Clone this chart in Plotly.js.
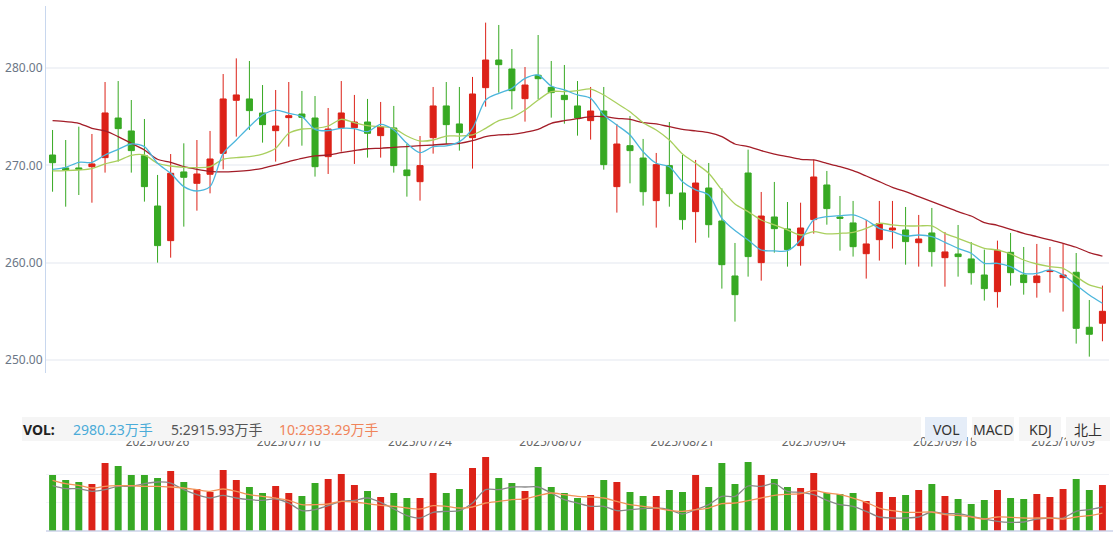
<!DOCTYPE html>
<html><head><meta charset="utf-8">
<script src="https://cdn.plot.ly/plotly-3.0.1.min.js"></script>
<style>html,body{margin:0;padding:0;background:#fff;}#chart{width:1113px;height:533px;}</style>
</head><body><div id="chart"></div>
<script>
const dates = ["2025/06/16","2025/06/17","2025/06/18","2025/06/19","2025/06/20","2025/06/23","2025/06/24","2025/06/25","2025/06/26","2025/06/27",
"2025/06/30","2025/07/01","2025/07/02","2025/07/03","2025/07/04","2025/07/07","2025/07/08","2025/07/09","2025/07/10","2025/07/11",
"2025/07/14","2025/07/15","2025/07/16","2025/07/17","2025/07/18","2025/07/21","2025/07/22","2025/07/23","2025/07/24","2025/07/25",
"2025/07/28","2025/07/29","2025/07/30","2025/07/31","2025/08/01","2025/08/04","2025/08/05","2025/08/06","2025/08/07","2025/08/08",
"2025/08/11","2025/08/12","2025/08/13","2025/08/14","2025/08/15","2025/08/18","2025/08/19","2025/08/20","2025/08/21","2025/08/22",
"2025/08/25","2025/08/26","2025/08/27","2025/08/28","2025/08/29","2025/09/01","2025/09/02","2025/09/03","2025/09/04","2025/09/05",
"2025/09/08","2025/09/09","2025/09/10","2025/09/11","2025/09/12","2025/09/15","2025/09/16","2025/09/17","2025/09/18","2025/09/19",
"2025/09/22","2025/09/23","2025/09/24","2025/09/25","2025/09/26","2025/09/29","2025/09/30","2025/10/09","2025/10/10","2025/10/13","2025/10/14"];

const tickDates = ["2025/06/26","2025/07/10","2025/07/24","2025/08/07","2025/08/21","2025/09/04","2025/09/18","2025/10/09"];

const openP = [271.06,269.73,269.73,269.86,270.79,274.86,273.53,270.99,265.82,262.26,
269.32,268.15,269.08,271.23,276.68,276.82,275.38,273.56,274.90,275.27,
274.86,270.89,273.87,273.87,274.45,273.05,273.84,269.52,268.32,272.84,
276.10,274.25,272.84,277.98,280.82,279.90,276.85,279.25,278.01,277.19,
276.10,274.59,275.58,267.81,272.02,270.75,266.37,269.97,267.16,265.24,
267.67,264.28,258.63,269.21,260.00,264.69,263.46,261.75,264.42,267.98,
264.69,264.08,260.92,262.36,263.36,263.36,262.05,263.05,260.51,260.89,
260.38,258.73,257.02,261.06,258.73,257.95,259.08,258.46,259.01,253.36,253.77];

const closeP = [270.27,269.49,269.59,270.14,275.38,273.77,271.51,267.81,261.75,269.18,
268.77,269.11,270.65,276.82,277.23,275.62,274.18,274.04,275.10,274.93,
269.86,273.73,275.38,274.45,273.29,273.94,269.97,268.94,269.97,276.10,
274.18,273.36,277.33,280.82,280.34,277.67,278.25,278.90,277.47,276.75,
274.86,275.58,270.07,272.19,271.51,267.29,270.07,267.09,264.42,268.18,
263.90,259.79,256.71,260.62,264.79,263.49,261.34,263.56,268.80,265.55,
264.55,261.64,261.92,264.01,263.56,262.16,262.43,261.13,261.10,260.62,
258.97,257.33,261.27,258.97,257.95,258.63,259.18,258.73,253.25,252.64,255.00];

const highP = [273.63,272.60,273.97,273.22,278.56,278.66,276.71,274.76,269.01,271.16,
272.26,272.60,273.53,279.38,280.99,280.72,278.25,277.74,278.56,277.64,
277.12,275.89,278.66,277.23,276.82,276.51,276.10,272.19,273.01,278.05,
278.56,278.05,279.08,284.66,284.42,281.95,280.10,283.39,280.72,280.31,
278.66,278.05,278.05,274.25,275.07,272.71,271.27,274.45,271.06,270.55,
270.24,267.64,262.02,271.61,267.26,268.29,266.23,266.16,270.58,269.42,
266.85,266.34,264.38,266.34,266.34,265.72,264.90,265.62,263.15,263.87,
262.12,261.34,262.26,263.05,261.61,261.92,261.61,261.92,260.99,256.16,257.64];

const lowP = [267.29,265.75,266.95,266.16,269.25,270.38,269.25,266.27,260.00,260.51,
263.70,265.34,267.12,269.59,272.95,273.63,272.33,270.38,271.92,272.02,
268.84,269.11,271.40,270.14,270.79,270.79,269.25,266.78,266.37,271.20,
272.19,271.51,269.66,276.03,277.47,275.75,274.49,276.78,274.90,274.28,
273.05,272.64,269.55,265.14,268.15,265.86,263.60,265.75,263.39,262.05,
262.57,257.33,253.94,258.56,258.15,261.03,259.59,259.69,262.98,263.90,
261.23,260.62,258.36,260.21,261.44,259.79,259.59,259.59,257.53,258.56,
257.74,256.10,255.38,257.64,256.71,256.40,256.92,254.97,251.68,250.34,251.92];

const ma5 = [269.59,269.79,270.31,270.31,271.06,271.64,272.19,271.92,270.21,269.18,
267.81,267.36,267.81,271.23,272.60,273.97,275.17,275.68,275.34,275.00,
273.70,273.56,273.80,273.77,273.46,274.21,273.63,272.26,271.30,271.92,
271.99,272.43,273.80,276.71,277.40,277.91,278.94,279.28,278.15,277.74,
277.23,276.88,275.17,274.14,273.12,271.40,270.21,269.86,268.32,267.47,
266.95,264.55,263.29,262.33,261.30,261.20,261.23,262.33,264.38,264.73,
264.83,264.90,264.38,263.53,263.18,262.74,262.84,262.67,262.09,261.47,
260.96,259.93,259.93,259.59,258.90,258.90,259.25,258.73,257.71,256.68,255.82];

const ma10 = [269.42,269.45,269.52,269.66,270.14,270.48,271.03,271.06,270.21,269.93,
269.79,269.76,269.86,270.62,270.79,270.89,271.16,271.75,273.29,273.73,
273.80,274.04,274.73,274.38,274.08,273.97,273.80,273.01,272.50,272.60,
273.01,273.01,273.12,273.80,274.59,274.93,275.68,276.71,277.57,277.57,
277.67,277.84,277.23,276.37,275.51,274.38,273.63,272.60,271.16,270.21,
269.18,267.47,266.03,265.24,264.38,263.87,263.36,262.84,263.18,262.95,
263.01,263.12,263.53,264.04,263.87,263.77,263.77,263.77,263.01,262.50,
261.99,261.47,261.30,260.89,260.27,259.86,259.59,259.42,258.56,257.71,257.36];

const ma20 = [274.59,274.49,274.32,273.80,273.53,272.95,272.26,271.58,270.62,270.31,
269.86,269.59,269.38,269.32,269.38,269.49,269.69,270.03,270.38,270.72,
270.96,271.06,271.30,271.51,271.70,271.75,271.85,271.92,272.02,272.09,
272.19,272.26,272.53,272.95,273.12,273.18,273.39,273.70,274.32,274.59,
274.79,275.00,275.00,274.83,274.73,274.38,274.25,273.97,273.70,273.53,
273.36,272.95,272.19,271.92,271.51,271.16,270.89,270.62,270.55,270.21,
269.86,269.45,268.90,268.32,267.74,267.29,266.78,266.27,265.75,265.24,
264.79,264.11,263.84,263.42,263.01,262.67,262.33,261.99,261.58,261.03,260.68];

const volume = [3628,3304,3175,3045,4406,4211,3628,3628,3434,3887,
3175,2721,2527,3952,3304,2851,2462,2915,2462,2268,
3110,3369,3693,2980,2592,2203,2462,2138,2138,3758,
2462,2721,4082,4794,3434,3110,2592,4146,2851,2462,
2138,2332,3304,3175,2527,2268,2268,2656,2527,3628,
2851,4406,3045,4470,3628,3369,2851,2786,3758,2462,
2397,2462,1944,2527,2203,2332,2656,3045,2268,2073,
1749,2008,2656,2138,2073,2397,2203,2721,3369,2656,2980.23];

const volMa5 = [2937,2743,2743,2570,2678,2894,2894,3067,3175,3110,
2678,2354,2138,2311,2138,2030,1987,2074,1814,1318,
1382,1642,1922,1987,2138,1858,1426,994,842,1210,
1274,1318,1814,2678,2678,2851,2851,2851,2462,2030,
1814,1598,1598,1318,1382,1447,1490,1382,1102,1382,
1706,2246,2246,2916,2894,3067,2570,2506,2354,1987,
1706,1598,1274,907,842,842,907,1231,1123,1123,
950,778,626,562,583,778,842,842,1274,1382,1555];

const volMa10 = [3283,3067,2959,2786,2894,2937,2937,2894,2894,2851,
2786,2678,2570,2722,2570,2354,2246,2138,1987,1706,
1706,1750,1922,1879,1771,1663,1598,1490,1426,1642,
1598,1490,1555,1814,1922,2030,2074,2290,2462,2354,
2246,2203,2138,1922,1706,1598,1490,1339,1274,1382,
1490,1771,1814,1966,2138,2311,2376,2419,2614,2462,
2354,2138,1858,1490,1318,1210,1210,1231,1058,1015,
907,778,907,886,842,842,842,778,907,994,1166];

const priceTicks = [250, 260, 270, 280];
const volLegend = {label: "VOL:", cur: "2980.23万手", m5: "5:2915.93万手", m10: "10:2933.29万手"};
const tabs = ["VOL", "MACD", "KDJ", "北上"];

const RED = "#dc2218", GREEN = "#37a923";
const W = 1113, H = 533;
const px = x => x / W, py = y => 1 - y / H;
const FONT = "Noto Sans, Noto Sans CJK SC, sans-serif";

const volColors = closeP.map((c, i) => c >= openP[i] ? RED : GREEN);

const traces = [
  {type: "candlestick", x: dates, open: openP, high: highP, low: lowP, close: closeP,
   xaxis: "x", yaxis: "y", whiskerwidth: 0, hoverinfo: "skip",
   increasing: {line: {color: RED, width: 1}, fillcolor: RED},
   decreasing: {line: {color: GREEN, width: 1}, fillcolor: GREEN}},
  {type: "scatter", mode: "lines", x: dates, y: ma20, xaxis: "x", yaxis: "y",
   line: {color: "#a31d28", width: 1.3, shape: "spline", smoothing: 0.8}, hoverinfo: "skip"},
  {type: "scatter", mode: "lines", x: dates, y: ma10, xaxis: "x", yaxis: "y",
   line: {color: "#a9cf5e", width: 1.3, shape: "spline", smoothing: 0.8}, hoverinfo: "skip"},
  {type: "scatter", mode: "lines", x: dates, y: ma5, xaxis: "x", yaxis: "y",
   line: {color: "#4cb6dc", width: 1.3, shape: "spline", smoothing: 0.8}, hoverinfo: "skip"},
  {type: "bar", x: dates, y: volume, xaxis: "x2", yaxis: "y2",
   marker: {color: volColors, line: {width: 0}}, hoverinfo: "skip"},
  {type: "scatter", mode: "lines", x: dates, y: volMa5, xaxis: "x2", yaxis: "y2",
   line: {color: "#888888", width: 1.3, shape: "spline", smoothing: 0.8}, hoverinfo: "skip"},
  {type: "scatter", mode: "lines", x: dates, y: volMa10, xaxis: "x2", yaxis: "y2",
   line: {color: "#f2935a", width: 1.3, shape: "spline", smoothing: 0.8}, hoverinfo: "skip"}
];

const xdom = [px(46), px(1109)];
const shapes = [
  {type: "line", xref: "paper", yref: "paper", x0: px(46), x1: 1, y0: py(531), y1: py(531),
   line: {color: "#cdd3ea", width: 1.5}, layer: "above"},
  {type: "rect", xref: "paper", yref: "paper", x0: px(22), x1: px(921), y0: py(441), y1: py(417),
   fillcolor: "#f5f5f5", line: {width: 0}, layer: "above"}
];
const tabX = [[925, 967, "#e5edf8"], [972, 1014, "#f5f5f5"], [1019, 1061, "#f5f5f5"], [1066, 1110, "#f5f5f5"]];
const annotations = [
  {xref: "paper", yref: "paper", x: px(21), y: py(429), xanchor: "left", yanchor: "middle", showarrow: false,
   text: "<b>" + volLegend.label + "</b>", font: {family: FONT, size: 14, color: "#222"}},
  {xref: "paper", yref: "paper", x: px(71), y: py(429), xanchor: "left", yanchor: "middle", showarrow: false,
   text: volLegend.cur, font: {family: FONT, size: 14, color: "#4aabd8"}},
  {xref: "paper", yref: "paper", x: px(169), y: py(429), xanchor: "left", yanchor: "middle", showarrow: false,
   text: volLegend.m5, font: {family: FONT, size: 14, color: "#555"}},
  {xref: "paper", yref: "paper", x: px(277), y: py(429), xanchor: "left", yanchor: "middle", showarrow: false,
   text: volLegend.m10, font: {family: FONT, size: 14, color: "#f0845a"}}
];
tabs.forEach((t, i) => {
  const [a, b, c] = tabX[i];
  shapes.push({type: "rect", xref: "paper", yref: "paper", x0: px(a), x1: px(b), y0: py(441), y1: py(417),
    fillcolor: c, line: {width: 0}, layer: "above"});
  annotations.push({xref: "paper", yref: "paper", x: px((a + b) / 2), y: py(429), xanchor: "center", yanchor: "middle",
    showarrow: false, text: t, font: {family: FONT, size: 14, color: "#333"}});
});

const layout = {
  width: W, height: H, margin: {l: 0, r: 0, t: 0, b: 0},
  paper_bgcolor: "#fff", plot_bgcolor: "#fff", showlegend: false, hovermode: false,
  boxgap: 0.34, bargap: 0.47,
  font: {family: FONT},
  xaxis: {domain: xdom, anchor: "y", type: "category", range: [-0.5, 80.5], showticklabels: false,
    showgrid: false, zeroline: false, showline: false, ticks: "", rangeslider: {visible: false}, fixedrange: true},
  yaxis: {domain: [py(373), py(6)], anchor: "x", range: [248.66, 286.37], tickvals: priceTicks,
    tickformat: ".2f", showline: true, linecolor: "#c8d7ee", linewidth: 1, gridcolor: "#f1f3f7", gridwidth: 2,
    zeroline: false, ticks: "", tickfont: {family: FONT, size: 12, color: "#6b7686"}, fixedrange: true},
  xaxis2: {domain: xdom, anchor: "y2", type: "category", range: [-0.5, 80.5], side: "top",
    tickvals: tickDates, ticktext: tickDates, showgrid: false, zeroline: false, showline: false, ticks: "",
    ticklabelstandoff: -3,
    tickfont: {family: FONT, size: 12, color: "#666"}, rangeslider: {visible: false}, fixedrange: true},
  yaxis2: {domain: [py(531), py(446)], anchor: "x2", range: [0, 5508], tickvals: [1836, 3672, 5508],
    showticklabels: false, gridcolor: "#f1f3f7", gridwidth: 1.5, zeroline: false, showline: false, ticks: "", fixedrange: true},
  shapes: shapes, annotations: annotations
};

Plotly.newPlot("chart", traces, layout, {staticPlot: true, displayModeBar: false});
</script></body></html>
